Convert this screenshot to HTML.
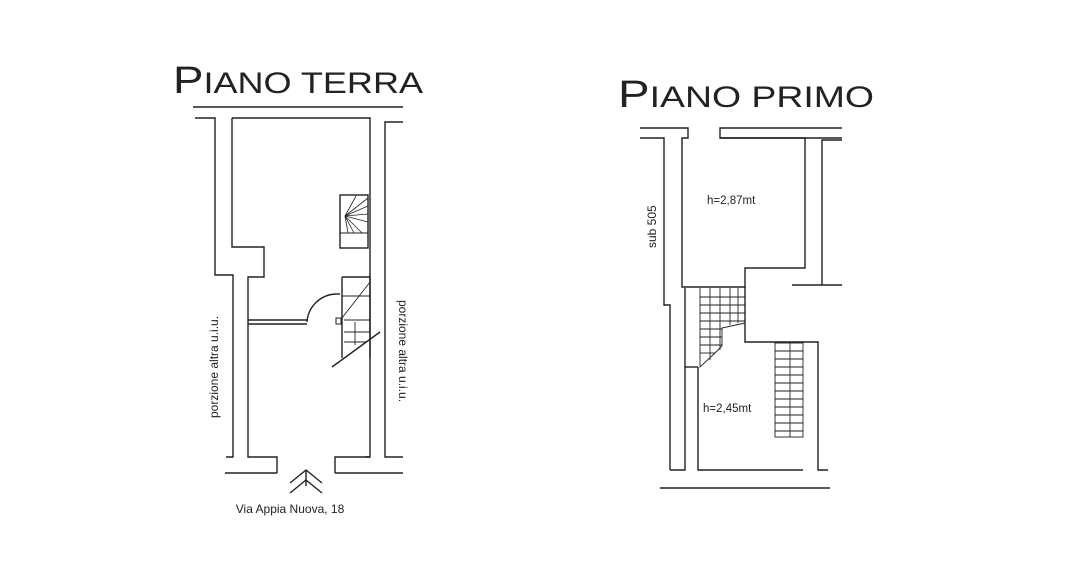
<!DOCTYPE html>
<html><head><meta charset="utf-8"><style>
html,body{margin:0;padding:0;background:#fff;width:1076px;height:573px;overflow:hidden}
svg{display:block}
.t{font-family:"Liberation Sans",sans-serif;fill:#222}
</style></head><body>
<svg width="1076" height="573" viewBox="0 0 1076 573" xmlns="http://www.w3.org/2000/svg">
<rect width="1076" height="573" fill="#fff"/>
<text class="t" x="173" y="93" font-size="38" textLength="250" lengthAdjust="spacingAndGlyphs">P<tspan font-size="30">IANO TERRA</tspan></text>
<text class="t" x="618" y="107" font-size="38" textLength="256" lengthAdjust="spacingAndGlyphs">P<tspan font-size="30">IANO PRIMO</tspan></text>

<g fill="none" stroke="#222" stroke-width="1.4">
<!-- LEFT PLAN -->
<line x1="193" y1="107" x2="403" y2="107"/>
<polyline points="195,118 215,118 215,275 233,275 233,457 226,457"/>
<polyline points="232,118 370,118 370,457 365,457"/>
<polyline points="232,118 232,247 264,247 264,277 248,277 248,457 277,457 277,473"/>
<line x1="225" y1="473" x2="277" y2="473"/>
<polyline points="335,473 335,457 370,457"/>
<line x1="335" y1="473" x2="403" y2="473"/>
<polyline points="403,122 385,122 385,457 403,457"/>
<rect x="340" y="195" width="28" height="53"/>
<line x1="340" y1="233" x2="368" y2="233" stroke-width="1"/>
<g stroke-width="0.8">
<line x1="345" y1="216" x2="368" y2="198"/><line x1="345" y1="216" x2="368" y2="206"/>
<line x1="345" y1="216" x2="368" y2="214"/><line x1="345" y1="216" x2="368" y2="222"/>
<line x1="345" y1="216" x2="362" y2="233"/><line x1="345" y1="216" x2="354" y2="233"/>
<line x1="345" y1="216" x2="356" y2="196"/><line x1="345" y1="216" x2="348" y2="233"/>
</g>
<polyline points="342,277 370,277 370,358"/>
<line x1="342" y1="277" x2="342" y2="358"/>
<g stroke-width="0.9">
<line x1="342" y1="296" x2="370" y2="296"/><line x1="344" y1="320" x2="370" y2="320"/>
<line x1="344" y1="332" x2="370" y2="332"/><line x1="344" y1="342" x2="366" y2="342"/>
<line x1="342" y1="318" x2="370" y2="282"/>
<line x1="355" y1="322" x2="355" y2="345"/>
</g>
<line x1="332" y1="367" x2="380" y2="332"/>
<rect x="336" y="318" width="5" height="6" stroke-width="1"/>
<line x1="248" y1="320" x2="307" y2="320"/><line x1="248" y1="324" x2="307" y2="324"/>
<path d="M307,322 A30,30 0 0 1 336,294"/>
<line x1="336" y1="294" x2="340" y2="294"/>
<polyline points="290,483 306,470 322,483"/>
<polyline points="290,493 306,480 322,493"/>
<line x1="306" y1="470" x2="306" y2="486"/>

<!-- RIGHT PLAN -->
<polyline points="640,138 664,138 664,305 670,305 670,470"/>
<polyline points="640,128 688,128 688,138 682,138 682,287 745,287 745,268 805,268 805,138 720,138 720,128 842,128"/>
<line x1="720" y1="138" x2="842" y2="138"/>
<polyline points="842,140 822,140 822,285"/>
<line x1="792" y1="285" x2="842" y2="285"/>
<polyline points="685,288 685,470 670,470"/>
<polyline points="745,287 745,342 818,342 818,470 828,470"/>
<polyline points="698,367 698,470 803,470"/>
<line x1="685" y1="367" x2="698" y2="367"/>
<line x1="660" y1="488" x2="830" y2="488"/>
<g stroke-width="0.9">
<polyline points="700,288 700,367 715,353 722,346 722,328 745,323"/>
<line x1="710" y1="288" x2="710" y2="360"/><line x1="720" y1="288" x2="720" y2="350"/>
<line x1="730" y1="288" x2="730" y2="325"/><line x1="738" y1="288" x2="738" y2="323"/>
<line x1="700" y1="297" x2="745" y2="297"/><line x1="700" y1="305" x2="745" y2="305"/>
<line x1="700" y1="313" x2="745" y2="313"/><line x1="700" y1="321" x2="745" y2="321"/>
<line x1="700" y1="329" x2="722" y2="329"/><line x1="700" y1="337" x2="722" y2="337"/>
<line x1="700" y1="345" x2="722" y2="345"/><line x1="700" y1="353" x2="715" y2="353"/>
<rect x="775" y="343" width="28" height="94"/>
<line x1="790" y1="343" x2="790" y2="437"/>
<line x1="775" y1="351" x2="803" y2="351"/><line x1="775" y1="359" x2="803" y2="359"/>
<line x1="775" y1="367" x2="803" y2="367"/><line x1="775" y1="375" x2="803" y2="375"/>
<line x1="775" y1="383" x2="803" y2="383"/><line x1="775" y1="391" x2="803" y2="391"/>
<line x1="775" y1="399" x2="803" y2="399"/><line x1="775" y1="407" x2="803" y2="407"/>
<line x1="775" y1="415" x2="803" y2="415"/><line x1="775" y1="423" x2="803" y2="423"/>
<line x1="775" y1="431" x2="803" y2="431"/>
</g>
</g>

<text class="t" x="290" y="513" font-size="12" text-anchor="middle">Via Appia Nuova, 18</text>
<text class="t" font-size="12" transform="translate(218,418) rotate(-90)">porzione altra u.i.u.</text>
<text class="t" font-size="12" transform="translate(399,300) rotate(90)">porzione altra u.i.u.</text>
<text class="t" font-size="12" transform="translate(656,248) rotate(-90)">sub 505</text>
<text class="t" x="707" y="204" font-size="11.5">h=2,87mt</text>
<text class="t" x="703" y="412" font-size="11.5">h=2,45mt</text>
</svg>
</body></html>
